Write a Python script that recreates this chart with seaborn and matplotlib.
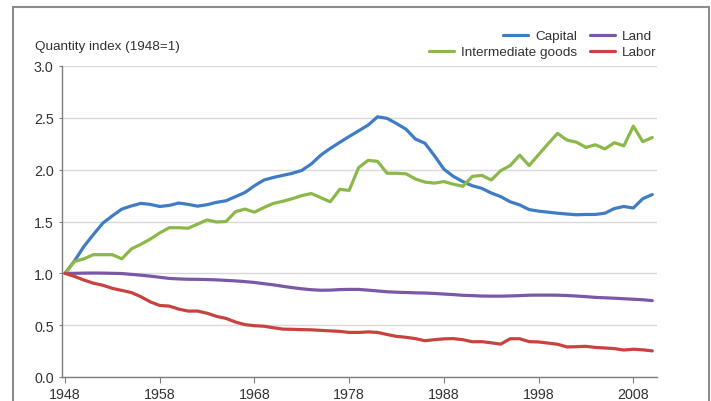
import numpy as np
import pandas as pd
import matplotlib
matplotlib.use("Agg")
import matplotlib.pyplot as plt
import seaborn as sns
from matplotlib.lines import Line2D
from matplotlib.patches import Rectangle

# quantity indexes, 1948 = 1
years = list(range(1948, 2011))

capital = [1.00, 1.12, 1.26, 1.375, 1.485, 1.555, 1.62, 1.65, 1.675, 1.665,
           1.645, 1.655, 1.678, 1.665, 1.648, 1.662, 1.685, 1.70, 1.74, 1.78,
           1.845, 1.90, 1.925, 1.945, 1.965, 1.993, 2.055, 2.14, 2.205, 2.263,
           2.32, 2.375, 2.43, 2.51, 2.495, 2.445, 2.39, 2.295, 2.255, 2.135,
           2.005, 1.935, 1.885, 1.845, 1.82, 1.775, 1.74, 1.69, 1.66, 1.615,
           1.60, 1.59, 1.58, 1.572, 1.565, 1.568, 1.568, 1.58, 1.625, 1.645,
           1.63, 1.72, 1.76]

land = [1.00, 1.00, 1.002, 1.003, 1.002, 1.00, 0.998, 0.99, 0.982, 0.973,
        0.962, 0.951, 0.946, 0.943, 0.942, 0.94, 0.937, 0.932, 0.927, 0.92,
        0.912, 0.90, 0.889, 0.875, 0.862, 0.851, 0.842, 0.837, 0.838, 0.843,
        0.845, 0.845, 0.838, 0.83, 0.822, 0.818, 0.815, 0.812, 0.81, 0.806,
        0.80, 0.795, 0.788, 0.785, 0.781, 0.78, 0.78, 0.782, 0.785, 0.789,
        0.79, 0.79, 0.789, 0.786, 0.781, 0.775, 0.768, 0.764, 0.76, 0.755,
        0.75, 0.745, 0.737]

intermediate = [1.00, 1.115, 1.14, 1.18, 1.18, 1.18, 1.14, 1.235, 1.28, 1.33,
                1.39, 1.44, 1.44, 1.435, 1.475, 1.515, 1.495, 1.50, 1.595, 1.62,
                1.59, 1.635, 1.675, 1.695, 1.72, 1.75, 1.77, 1.73, 1.69, 1.81,
                1.80, 2.02, 2.09, 2.08, 1.965, 1.965, 1.96, 1.91, 1.88, 1.87,
                1.885, 1.86, 1.84, 1.935, 1.945, 1.90, 1.99, 2.04, 2.14, 2.04,
                2.145, 2.25, 2.35, 2.285, 2.265, 2.215, 2.24, 2.20, 2.26, 2.23,
                2.42, 2.27, 2.31]

labor = [1.00, 0.97, 0.935, 0.905, 0.885, 0.855, 0.835, 0.815, 0.775, 0.725,
         0.69, 0.684, 0.655, 0.636, 0.636, 0.615, 0.585, 0.565, 0.53, 0.505,
         0.495, 0.49, 0.475, 0.462, 0.46, 0.457, 0.455, 0.45, 0.445, 0.44,
         0.43, 0.43, 0.435, 0.43, 0.41, 0.392, 0.383, 0.37, 0.35, 0.36,
         0.368, 0.37, 0.36, 0.34, 0.341, 0.33, 0.317, 0.369, 0.369, 0.341,
         0.338, 0.327, 0.316, 0.29, 0.292, 0.296, 0.285, 0.28, 0.274, 0.26,
         0.268, 0.262, 0.252]

series_names = ["Capital", "Land", "Intermediate goods", "Labor"]
colors = ["#3E7CC4", "#7A58A8", "#8CB84A", "#C8423F"]

df = pd.DataFrame({"year": years, "Capital": capital, "Land": land,
                   "Intermediate goods": intermediate, "Labor": labor})
long_df = df.melt(id_vars="year", var_name="series", value_name="index")

sns.set_style("white")
plt.rcParams["font.family"] = ["Liberation Sans", "DejaVu Sans"]
text_color = "#333333"

fig = plt.figure(figsize=(7.11, 4.02), dpi=100)
ax = fig.add_axes([62 / 711, 24 / 402, 595 / 711, 311 / 402])

sns.lineplot(data=long_df, x="year", y="index", hue="series",
             hue_order=series_names, palette=colors, linewidth=2.3,
             estimator=None, legend=False, ax=ax)

ax.set_xlim(1947.68, 2010.5)
ax.set_ylim(0, 3)
ax.set_xticks(range(1948, 2011, 10))
ax.set_yticks(np.arange(0, 3.01, 0.5))
ax.yaxis.set_major_formatter(matplotlib.ticker.FormatStrFormatter("%.1f"))
ax.set_xlabel("")
ax.set_ylabel("")

ax.set_axisbelow(True)
ax.yaxis.grid(True, color="#d9d9d9", linewidth=1)
ax.xaxis.grid(False)
for side in ["top", "right"]:
    ax.spines[side].set_visible(False)
for side in ["left", "bottom"]:
    ax.spines[side].set_color("#7f7f7f")
    ax.spines[side].set_linewidth(1)

ax.tick_params(axis="both", bottom=True, left=True, colors="#7f7f7f",
               labelcolor=text_color, labelsize=10.3, width=0.8)
ax.tick_params(axis="y", length=2.5, pad=3.5)
ax.tick_params(axis="x", length=4, pad=3.5)

fig.text(35 / 711, 1 - 47 / 402, "Quantity index (1948=1)", fontsize=9.7,
         color=text_color, ha="left", va="center")

# legend: first column right-aligned, second column left-aligned
legend_items = [("Capital", colors[0], 577, 37, "center right"),
                ("Land", colors[1], 590, 37, "center left"),
                ("Intermediate goods", colors[2], 577, 53, "center right"),
                ("Labor", colors[3], 590, 53, "center left")]
for name, color, px, py, loc in legend_items:
    handle = Line2D([], [], color=color, linewidth=2.3)
    fig.legend([handle], [name], loc=loc,
               bbox_to_anchor=(px / 711, 1 - py / 402),
               bbox_transform=fig.transFigure, frameon=False, fontsize=9.7,
               labelcolor=text_color, handlelength=1.85, handletextpad=0.5,
               borderpad=0, borderaxespad=0)

# gray frame around the chart
frame = Rectangle((13 / 711, -0.1), (708.5 - 13) / 711, 1.1 - 8 / 402,
                  transform=fig.transFigure, fill=False,
                  edgecolor="#8c8c8c", linewidth=1.5, clip_on=False)
fig.add_artist(frame)

fig.savefig("out.png", dpi=100, facecolor="white")
